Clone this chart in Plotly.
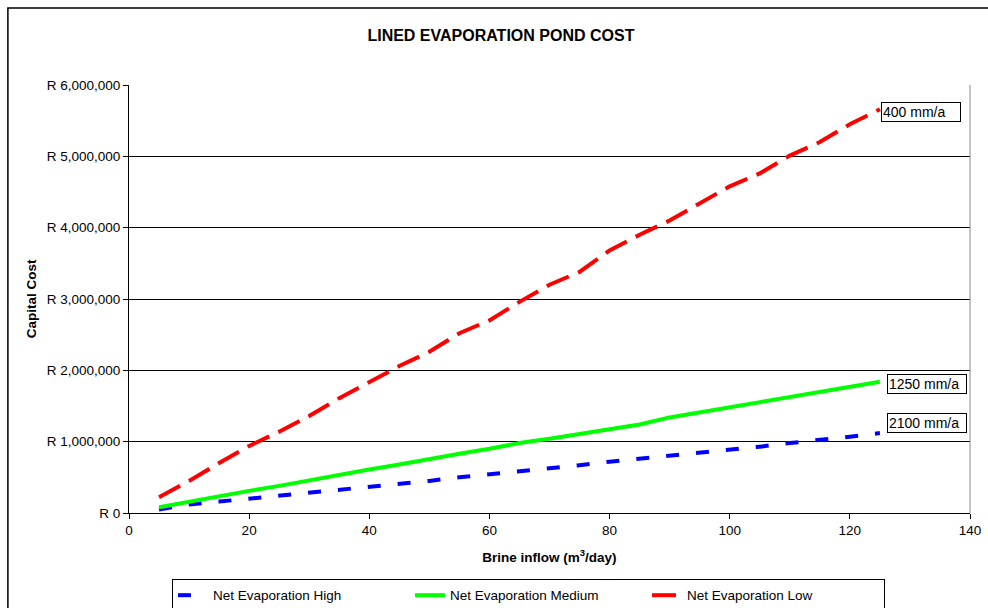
import plotly.graph_objects as go

# Brine inflow (m3/day)
inflow = [5, 10, 15, 20, 25, 30, 35, 40, 45, 50, 55, 60, 65,
          70, 75, 80, 85, 90, 95, 100, 105, 110, 115, 120, 125]

# Capital cost (Rand) per net evaporation scenario
cost_high = [0.05e6, 0.12e6, 0.16e6, 0.20e6, 0.25e6, 0.29e6, 0.33e6, 0.37e6, 0.41e6,
             0.45e6, 0.50e6, 0.54e6, 0.58e6, 0.63e6, 0.67e6, 0.72e6, 0.76e6, 0.80e6,
             0.85e6, 0.89e6, 0.93e6, 0.98e6, 1.02e6, 1.07e6, 1.12e6]
cost_medium = [0.08e6, 0.16e6, 0.23e6, 0.31e6, 0.38e6, 0.46e6, 0.53e6, 0.61e6, 0.68e6,
               0.76e6, 0.83e6, 0.90e6, 0.98e6, 1.04e6, 1.11e6, 1.18e6, 1.24e6, 1.34e6,
               1.41e6, 1.48e6, 1.55e6, 1.63e6, 1.70e6, 1.77e6, 1.84e6]
cost_low = [0.22e6, 0.45e6, 0.70e6, 0.94e6, 1.14e6, 1.36e6, 1.61e6, 1.84e6, 2.06e6,
            2.26e6, 2.52e6, 2.70e6, 2.96e6, 3.20e6, 3.38e6, 3.68e6, 3.90e6, 4.10e6,
            4.34e6, 4.58e6, 4.76e6, 5.01e6, 5.20e6, 5.45e6, 5.66e6]

series_names = ["Net Evaporation High", "Net Evaporation Medium", "Net Evaporation Low"]
end_labels = ["2100 mm/a", "1250 mm/a", "400 mm/a"]

FONT = "Liberation Sans, Arial, sans-serif"

fig = go.Figure()
fig.add_trace(go.Scatter(x=inflow, y=cost_high, mode="lines", name=series_names[0],
                         line=dict(color="#0000ff", width=4, dash="13px,17px")))
fig.add_trace(go.Scatter(x=inflow, y=cost_medium, mode="lines", name=series_names[1],
                         line=dict(color="#00ff00", width=4)))
fig.add_trace(go.Scatter(x=inflow, y=cost_low, mode="lines", name=series_names[2],
                         line=dict(color="#ff0000", width=4, dash="24px,10px")))

# Boxed labels at the end of each curve
label_pos = [(126.2, 1.255e6), (126.2, 1.815e6), (125.2, 5.62e6)]
for (lx, ly), txt in zip(label_pos, end_labels):
    fig.add_annotation(x=lx, y=ly, xref="x", yref="y", text=txt, showarrow=False,
                       xanchor="left", yanchor="middle", align="left", width=76,
                       bgcolor="white", bordercolor="black", borderwidth=1, borderpad=1,
                       font=dict(family=FONT, size=14, color="black"))

# Outer chart frame
fig.add_shape(type="rect", xref="paper", yref="paper",
              x0=-0.144, x1=1.1, y0=-0.3, y1=1.18,
              line=dict(color="black", width=1.5), layer="below")

# Right border of the plot area
fig.add_shape(type="line", xref="paper", yref="paper", x0=1, x1=1, y0=0, y1=1,
              line=dict(color="#888888", width=1))

fig.update_layout(
    width=988, height=608,
    margin=dict(l=129, r=18, t=85, b=95, autoexpand=False),
    paper_bgcolor="white", plot_bgcolor="white",
    font=dict(family=FONT, size=13.5, color="black"),
    title=dict(text="<b>LINED EVAPORATION POND COST</b>", x=0.507, xanchor="center",
               y=0.941, yanchor="middle", font=dict(size=16, color="black")),
    xaxis=dict(range=[0, 140], dtick=20, tick0=0, showgrid=False, showline=True,
               linecolor="black", linewidth=1, ticks="outside", ticklen=5,
               tickcolor="black", zeroline=False,
               title=dict(text="<b>Brine inflow (m<sup>3</sup>/day)</b>",
                          font=dict(size=13.5), standoff=15)),
    yaxis=dict(range=[0, 6e6], dtick=1e6, tickprefix="R ", tickformat=",d",
               showgrid=True, gridcolor="black", gridwidth=1, showline=True,
               linecolor="black", linewidth=1, ticks="outside", ticklen=5,
               tickcolor="black", zeroline=False,
               title=dict(text="<b>Capital Cost</b>", font=dict(size=13.5), standoff=7)),
    legend=dict(orientation="h", x=0.475, xanchor="center", y=-0.154, yanchor="top",
                bordercolor="black", borderwidth=1, bgcolor="white",
                font=dict(size=13.5), entrywidth=192, traceorder="normal"),
)

fig.write_html("out.html")
